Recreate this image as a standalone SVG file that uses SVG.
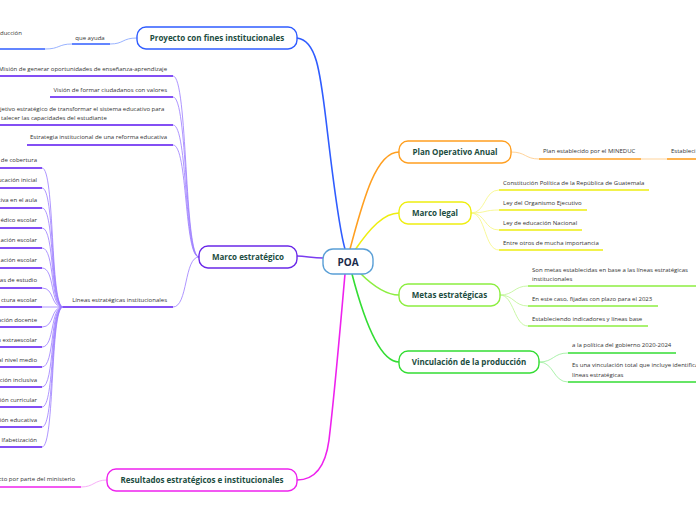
<svg xmlns="http://www.w3.org/2000/svg" width="696" height="520" viewBox="0 0 696 520">
<style>
.node rect{fill:#fff;stroke-width:1.4}
.nt{font-family:"Open Sans","Noto Sans",sans-serif;font-weight:700;font-size:8px;fill:#1c4d3f;text-anchor:middle}
.ct{font-family:"Open Sans","Noto Sans",sans-serif;font-size:6px;fill:#333}
.e{text-anchor:end}
.m{text-anchor:middle}
#connectors path{fill:none}
.main{stroke-width:1.6}
.thin{stroke-width:0.8}
.ul{stroke-width:1.6}
</style>
<rect width="696" height="520" fill="#fff"/>
<g id="connectors">
  <path class="main" stroke="#2f5cff" d="M297,38 C316,40 320,70 326,120 C332,170 338,225 345,249"/>
  <path class="main" stroke="#7a3cf0" d="M323,258 C312,258 306,256 297,256"/>
  <path class="main" stroke="#ee22ee" d="M345,274 C340,330 335,390 329,440 C325,470 312,480 297,480"/>
  <path class="main" stroke="#ff9f20" d="M350,249 C362,205 375,152 399,152"/>
  <path class="main" stroke="#eeee10" d="M355,250 C370,228 384,213 399,213"/>
  <path class="main" stroke="#8cee40" d="M360,273 C372,285 386,295 399,295"/>
  <path class="main" stroke="#33dd33" d="M352,274 C364,320 380,362 399,362"/>
  <path class="thin" stroke="#7fa0ff" d="M137,38 C122,38 124,44 110,44"/>
  <path class="ul" stroke="#2f5cff" d="M72,44 H110"/>
  <path class="thin" stroke="#7fa0ff" d="M72,44 C58,44 60,49 45,49"/>
  <path class="ul" stroke="#2f5cff" d="M0,49 H45"/>
  <g stroke="#9b7bff" class="thin">
    <path d="M199,257 C184,257 188,76 173,76"/>
    <path d="M199,257 C184,257 188,97 173,97"/>
    <path d="M199,257 C184,257 188,125 173,125"/>
    <path d="M199,257 C184,257 188,145 173,145"/>
    <path d="M199,257 C184,257 188,307 173,307"/>
  </g>
  <g stroke="#5a14f0" class="ul">
    <path d="M0,76 H173"/>
    <path d="M50,97 H173"/>
    <path d="M0,125 H173"/>
    <path d="M27,145 H173"/>
    <path d="M63,307 H173"/>
  </g>
  <g stroke="#9b7bff" class="thin">
    <path d="M63,307 C50,307 55,168 42,168"/>
    <path d="M63,307 C50,307 55,188 42,188"/>
    <path d="M63,307 C50,307 55,208 42,208"/>
    <path d="M63,307 C50,307 55,228 42,228"/>
    <path d="M63,307 C50,307 55,248 42,248"/>
    <path d="M63,307 C50,307 55,268 42,268"/>
    <path d="M63,307 C50,307 55,288 42,288"/>
    <path d="M63,307 H42"/>
    <path d="M63,307 C50,307 55,327 42,327"/>
    <path d="M63,307 C50,307 55,347 42,347"/>
    <path d="M63,307 C50,307 55,367 42,367"/>
    <path d="M63,307 C50,307 55,387 42,387"/>
    <path d="M63,307 C50,307 55,407 42,407"/>
    <path d="M63,307 C50,307 55,427 42,427"/>
    <path d="M63,307 C50,307 55,447 42,447"/>
  </g>
  <g stroke="#5a14f0" class="ul">
    <path d="M0,168 H42"/><path d="M0,188 H42"/><path d="M0,208 H42"/><path d="M0,228 H42"/>
    <path d="M0,248 H42"/><path d="M0,268 H42"/><path d="M0,288 H42"/><path d="M0,307 H42"/>
    <path d="M0,327 H42"/><path d="M0,347 H42"/><path d="M0,367 H42"/><path d="M0,387 H42"/>
    <path d="M0,407 H42"/><path d="M0,427 H42"/><path d="M0,447 H42"/>
  </g>
  <path class="thin" stroke="#f59af5" d="M107,480 C94,480 94,487 81,487"/>
  <path class="ul" stroke="#ee22ee" d="M0,487 H81"/>
  <path class="thin" stroke="#ffc880" d="M511,152 C526,152 525,159 539,159"/>
  <path class="ul" stroke="#ff9f20" d="M539,159 H641"/>
  <path class="thin" stroke="#ffc880" d="M641,159 H667"/>
  <path class="ul" stroke="#ff9f20" d="M667,159 H696"/>
  <g stroke="#f6f680" class="thin">
    <path d="M471,213 C486,213 484,190 499,190"/>
    <path d="M471,213 C486,213 484,210 499,210"/>
    <path d="M471,213 C486,213 484,230 499,230"/>
    <path d="M471,213 C486,213 484,250 499,250"/>
  </g>
  <g stroke="#eeee10" class="ul">
    <path d="M499,190 H649"/><path d="M499,210 H587"/><path d="M499,230 H582"/><path d="M499,250 H603"/>
  </g>
  <g stroke="#bdf590" class="thin">
    <path d="M500,295 C514,295 514,286 528,286"/>
    <path d="M500,295 C514,295 514,306 528,306"/>
    <path d="M500,295 C514,295 514,326 528,326"/>
  </g>
  <g stroke="#8cee40" class="ul">
    <path d="M528,286 H696"/><path d="M528,306 H658"/><path d="M528,326 H648"/>
  </g>
  <g stroke="#95ee95" class="thin">
    <path d="M539,362 C554,362 553,353 568,353"/>
    <path d="M539,362 C554,362 553,382 568,382"/>
  </g>
  <g stroke="#33dd33" class="ul">
    <path d="M568,353 H676"/><path d="M568,382 H696"/>
  </g>
</g>

<g id="poa" class="node">
  <rect x="323" y="249" width="50" height="25" rx="10" stroke="#5a9fd6"/>
  <text x="348" y="265.5" class="nt" style="font-size:10px;fill:#1b2b4b">POA</text>
</g>
<g id="proyecto" class="node">
  <rect x="137" y="27" width="160" height="22" rx="9" stroke="#2f5cff"/>
  <text x="217" y="40.9" class="nt">Proyecto con fines institucionales</text>
</g>
<g id="marco-estrategico" class="node">
  <rect x="199" y="246" width="98" height="22" rx="9" stroke="#6a28e8"/>
  <text x="248" y="259.9" class="nt">Marco estratégico</text>
</g>
<g id="resultados" class="node">
  <rect x="107" y="469" width="190" height="22" rx="9" stroke="#ee22ee"/>
  <text x="202" y="482.9" class="nt">Resultados estratégicos e institucionales</text>
</g>
<g id="plan" class="node">
  <rect x="399" y="141" width="112" height="22" rx="9" stroke="#ff9f20"/>
  <text x="455" y="154.9" class="nt">Plan Operativo Anual</text>
</g>
<g id="marco-legal" class="node">
  <rect x="399" y="202" width="72" height="22" rx="9" stroke="#eeee10"/>
  <text x="435" y="215.9" class="nt">Marco legal</text>
</g>
<g id="metas" class="node">
  <rect x="399" y="284" width="101" height="22" rx="9" stroke="#8cee40"/>
  <text x="449.5" y="297.9" class="nt">Metas estratégicas</text>
</g>
<g id="vinculacion" class="node">
  <rect x="399" y="351" width="140" height="22" rx="9" stroke="#33dd33"/>
  <text x="469" y="364.9" class="nt">Vinculación de la producción</text>
</g>

<g id="proyecto-children">
  <text x="90" y="40" class="ct m">que ayuda</text>
  <text x="0" y="35" class="ct">ducción</text>
</g>
<g id="marco-estrategico-children">
  <text x="167" y="71" class="ct e">Misión de generar oportunidades de enseñanza-aprendizaje</text>
  <text x="167" y="92" class="ct e">Visión de formar ciudadanos con valores</text>
  <text x="0" y="111" class="ct">jetivo estratégico de transformar el sistema educativo para</text>
  <text x="1" y="120" class="ct">talecer las capacidades del estudiante</text>
  <text x="167" y="139" class="ct e">Estrategia institucional de una reforma educativa</text>
  <text x="167" y="302" class="ct e">Líneas estratégicas institucionales</text>
</g>
<g id="lineas-children">
  <text x="37" y="162" class="ct e">de cobertura</text>
  <text x="37" y="182" class="ct e">ucación inicial</text>
  <text x="37" y="202" class="ct e">tiva en el aula</text>
  <text x="37" y="222" class="ct e">édico escolar</text>
  <text x="37" y="242" class="ct e">ación escolar</text>
  <text x="37" y="262" class="ct e">ación escolar</text>
  <text x="37" y="282" class="ct e">as de estudio</text>
  <text x="37" y="302" class="ct e">ctura escolar</text>
  <text x="37" y="322" class="ct e">ación docente</text>
  <text x="37" y="342" class="ct e">n extraescolar</text>
  <text x="37" y="362" class="ct e">al nivel medio</text>
  <text x="37" y="382" class="ct e">ción inclusiva</text>
  <text x="37" y="402" class="ct e">ión curricular</text>
  <text x="37" y="422" class="ct e">ión educativa</text>
  <text x="37" y="442" class="ct e">lfabetización</text>
</g>
<g id="resultados-children">
  <text x="75" y="481" class="ct e">cto por parte del ministerio</text>
</g>
<g id="plan-children">
  <text x="543" y="153" class="ct">Plan establecido por el MINEDUC</text>
  <text x="671" y="153" class="ct">Estableci</text>
</g>
<g id="marco-legal-children">
  <text x="503" y="185" class="ct">Constitución Política de la República de Guatemala</text>
  <text x="503" y="205" class="ct">Ley del Organismo Ejecutivo</text>
  <text x="503" y="225" class="ct">Ley de educación Nacional</text>
  <text x="503" y="245" class="ct">Entre otros de mucha importancia</text>
</g>
<g id="metas-children">
  <text x="532" y="272" class="ct">Son metas establecidas en base a las líneas estratégicas</text>
  <text x="532" y="281" class="ct">institucionales</text>
  <text x="532" y="301" class="ct">En este caso, fijadas con plazo para el 2023</text>
  <text x="532" y="321" class="ct">Estableciendo indicadores y líneas base</text>
</g>
<g id="vinculacion-children">
  <text x="572" y="347" class="ct">a la política del gobierno 2020-2024</text>
  <text x="572" y="367" class="ct">Es una vinculación total que incluye identifica</text>
  <text x="572" y="377" class="ct">líneas estratégicas</text>
</g>
</svg>
